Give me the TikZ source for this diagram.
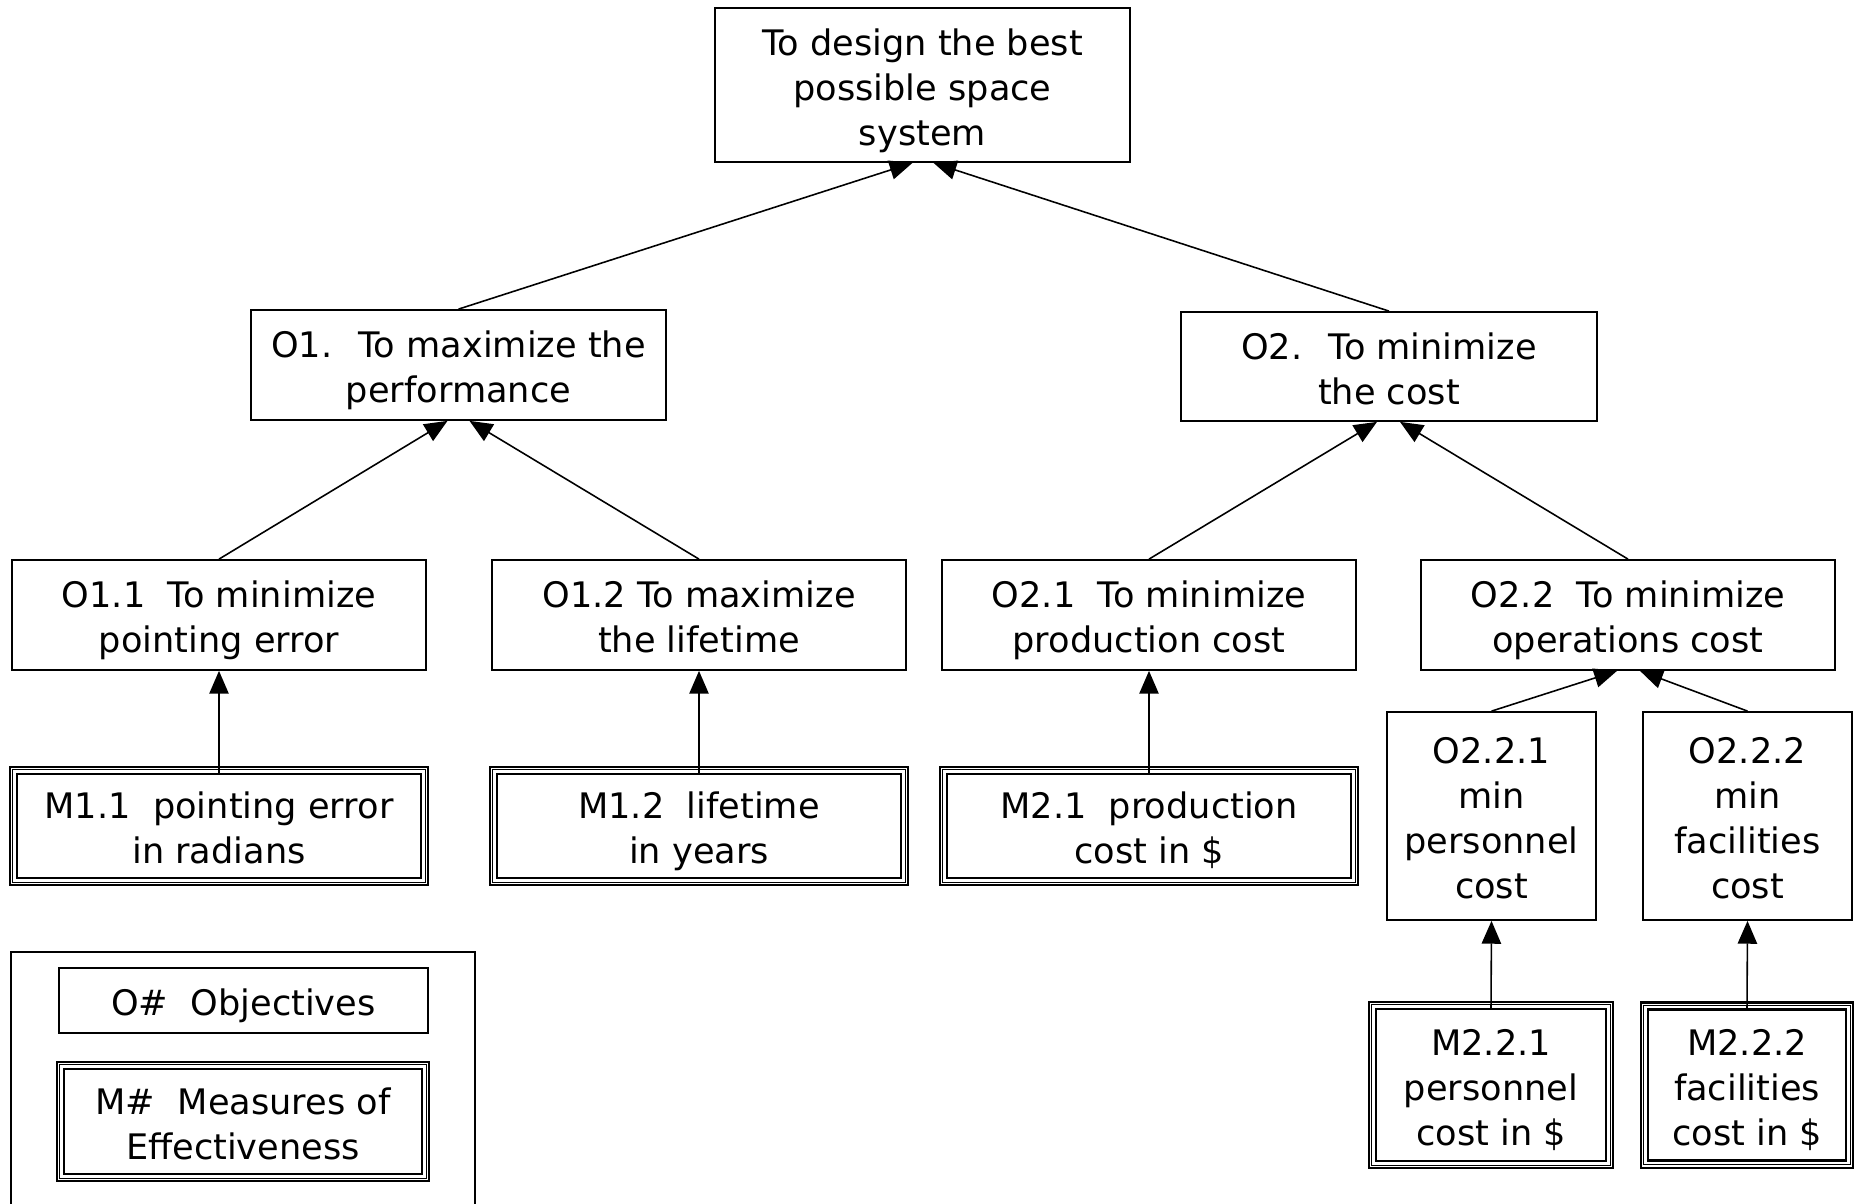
\documentclass[tikz,border=0pt]{standalone}
\usepackage{fontspec}
\setmainfont{DejaVu Sans}
\usetikzlibrary{arrows.meta}
\renewcommand\arraystretch{1.0667}
\newcommand\boxtext[1]{\raisebox{-1.8pt}[\height][\depth]{\begin{tabular}{@{}c@{}}#1\end{tabular}}}
\begin{document}
\begin{tikzpicture}[x=1cm,y=1cm,
  obj/.style={draw, line width=0.5pt, inner sep=0pt},
  moe/.style={obj, line width=0.7pt},
  arr/.style={-{Triangle[length=6.5pt,width=5.5pt]}, line width=0.45pt}]
\useasboundingbox (0,0) rectangle (18.56,-12.04);
\node[draw, line width=0.5pt, minimum width=4.64cm, minimum height=3cm] (key) at (2.43,-11.02) {};
\node[obj, minimum width=4.15cm, minimum height=1.54cm] (top) at (9.225,-0.85) {\boxtext{To design the best\\possible space\\system}};
\node[obj, minimum width=4.15cm, minimum height=1.10cm] (o1) at (4.585,-3.65) {\boxtext{O1.~ To maximize the\\performance}};
\node[obj, minimum width=4.16cm, minimum height=1.09cm] (o2) at (13.89,-3.665) {\boxtext{O2.~ To minimize\\the cost}};
\node[obj, minimum width=4.14cm, minimum height=1.10cm] (o11) at (2.19,-6.15) {\boxtext{O1.1~ To minimize\\pointing error}};
\node[obj, minimum width=4.14cm, minimum height=1.10cm] (o12) at (6.99,-6.15) {\boxtext{O1.2 To maximize\\the lifetime}};
\node[obj, minimum width=4.14cm, minimum height=1.10cm] (o21) at (11.49,-6.15) {\boxtext{O2.1~ To minimize\\production cost}};
\node[obj, minimum width=4.14cm, minimum height=1.10cm] (o22) at (16.28,-6.15) {\boxtext{O2.2~ To minimize\\operations cost}};
\node[moe, minimum width=4.04cm, minimum height=1.04cm] (m11) at (2.19,-8.26) {\boxtext{M1.1~ pointing error\\in radians}};
\node[moe, minimum width=4.04cm, minimum height=1.04cm] (m12) at (6.99,-8.26) {\boxtext{M1.2~ lifetime\\in years}};
\node[moe, minimum width=4.04cm, minimum height=1.04cm] (m21) at (11.49,-8.26) {\boxtext{M2.1~ production\\cost in \$}};
\node[obj, minimum width=2.09cm, minimum height=2.08cm] (o221) at (14.915,-8.16) {\boxtext{O2.2.1\\min\\personnel\\cost}};
\node[obj, minimum width=2.09cm, minimum height=2.08cm] (o222) at (17.475,-8.16) {\boxtext{O2.2.2\\min\\facilities\\cost}};
\node[moe, minimum width=2.30cm, minimum height=1.52cm] (m221) at (14.91,-10.85) {\boxtext{M2.2.1\\personnel\\cost in \$}};
\node[moe, minimum width=1.98cm, minimum height=1.51cm] (m222) at (17.47,-10.85) {\boxtext{M2.2.2\\facilities\\cost in \$}};
\node[obj, minimum width=3.69cm, minimum height=0.65cm] (lo) at (2.435,-10.005) {\boxtext{O\#~ Objectives}};
\node[moe, minimum width=3.58cm, minimum height=1.05cm] (lm) at (2.43,-11.215) {\boxtext{M\#~ Measures of\\Effectiveness}};
\foreach \n in {m11,m12,m21,m221,m222,lm}{
  \draw[line width=0.3pt] ([shift={(-0.03,-0.03)}]\n.south west) rectangle ([shift={(0.03,0.03)}]\n.north east);
  \draw[line width=0.7pt] ([shift={(-0.06,-0.06)}]\n.south west) rectangle ([shift={(0.06,0.06)}]\n.north east);
}
\draw[arr] (o1.north) -- ([xshift=-0.1cm]top.south);
\draw[arr] (o2.north) -- ([xshift=0.11cm]top.south);
\draw[arr] (o11.north) -- ([xshift=-0.11cm]o1.south);
\draw[arr] (o12.north) -- ([xshift=0.11cm]o1.south);
\draw[arr] (o21.north) -- ([xshift=-0.12cm]o2.south);
\draw[arr] (o22.north) -- ([xshift=0.11cm]o2.south);
\draw[arr] (o221.north) -- ([xshift=-0.11cm]o22.south);
\draw[arr] (o222.north) -- ([xshift=0.12cm]o22.south);
\draw[arr] (m11.north) -- (o11.south);
\draw[arr] (m12.north) -- (o12.south);
\draw[arr] (m21.north) -- (o21.south);
\draw[arr] (m221.north) -- (o221.south);
\draw[arr] (m222.north) -- (o222.south);
\end{tikzpicture}
\end{document}
